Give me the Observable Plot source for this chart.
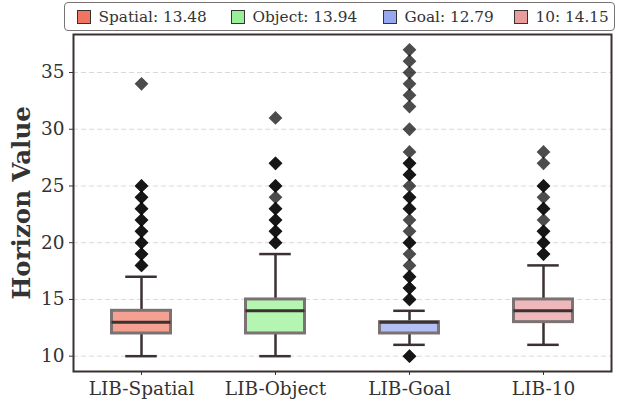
<!DOCTYPE html>
<html>
<head>
<meta charset="utf-8">
<script src="https://cdn.jsdelivr.net/npm/d3@7"></script>
<script src="https://cdn.jsdelivr.net/npm/@observablehq/plot@0.6"></script>
<style>
  html, body { margin: 0; padding: 0; background: #fff; }
  #wrap { position: relative; width: 624px; height: 402px; font-family: "DejaVu Serif", serif; }
  #wrap svg text { font-family: "DejaVu Serif", serif; }
  #legend { position: absolute; left: 64px; top: 2px; width: 549px; height: 27px;
            border: 1.5px solid #7a7474; border-radius: 4px; background: #fff; }
  .item { position: absolute; top: 0; height: 27px; display: flex; align-items: center;
          font-family: "DejaVu Serif", serif; font-size: 15.3px; color: #333; white-space: nowrap; }
  .sw { width: 12px; height: 12px; border: 1px solid #333; margin-right: 8px; }
  svg { display: block; }
</style>
</head>
<body>
<div id="wrap"></div>
<script>
// ---- data ----
const categories = ["LIB-Spatial", "LIB-Object", "LIB-Goal", "LIB-10"];
const legendNames = ["Spatial", "Object", "Goal", "10"];
const means = [13.48, 13.94, 12.79, 14.15];
const q1 = [12, 12, 12, 13];
const medians = [13, 14, 13, 14];
const q3 = [14, 15, 13, 15];
const whiskerLow = [10, 10, 11, 11];
const whiskerHigh = [17, 19, 14, 18];
const outliersSpatial = [18, 18, 19, 19, 20, 20, 21, 21, 22, 22, 23, 23, 24, 24, 25, 25, 34];
const outliersObject = [20, 20, 21, 21, 22, 22, 23, 23, 24, 25, 25, 27, 27, 31];
const outliersGoal = [10, 10, 15, 15, 16, 16, 17, 17, 18, 19, 20, 20, 21, 22, 23, 23, 24, 24, 25, 26, 26, 27, 27, 28, 30, 32, 33, 34, 35, 36, 37];
const outliers10 = [19, 19, 20, 20, 21, 21, 22, 23, 23, 24, 25, 25, 27, 28];
const boxColors = ["#f5a192", "#b3f5b1", "#b4bff5", "#efb8bb"];
const legendColors = ["#f07460", "#98ef98", "#98a8f0", "#e89c9c"];
const yTicks = [10, 15, 20, 25, 30, 35];

// ---- tables ----
const boxes = categories.map((c, i) => ({
  category: c, q1: q1[i], median: medians[i], q3: q3[i],
  low: whiskerLow[i], high: whiskerHigh[i], fill: boxColors[i]
}));
const outlierLists = [outliersSpatial, outliersObject, outliersGoal, outliers10];
const outliers = categories.flatMap((c, i) => outlierLists[i].map(v => ({category: c, value: v})));

const dark = "#3b3131";
const chart = Plot.plot({
  width: 624, height: 402,
  marginTop: 34, marginBottom: 31, marginLeft: 73, marginRight: 13,
  style: {fontFamily: "DejaVu Serif, serif", fontSize: "18.5px", color: "#333", background: "transparent"},
  x: {type: "band", domain: categories, padding: 0, label: null},
  y: {domain: [8.65, 38.35], label: null},
  color: {type: "identity"},
  marks: [
    Plot.gridY(yTicks, {stroke: "#d9d9d9", strokeOpacity: 1, strokeDasharray: "5,3", strokeWidth: 1}),
    Plot.ruleX(boxes, {x: "category", y1: "low", y2: "q1", stroke: dark, strokeWidth: 2.5}),
    Plot.ruleX(boxes, {x: "category", y1: "q3", y2: "high", stroke: dark, strokeWidth: 2.5}),
    Plot.tickY(boxes, {x: "category", y: "low", insetLeft: 51.25, insetRight: 51.25, stroke: dark, strokeWidth: 2.5}),
    Plot.tickY(boxes, {x: "category", y: "high", insetLeft: 51.25, insetRight: 51.25, stroke: dark, strokeWidth: 2.5}),
    Plot.barY(boxes, {x: "category", y1: "q1", y2: "q3", fill: "fill", stroke: "#7b7373", strokeWidth: 3, insetLeft: 37.5, insetRight: 37.5}),
    Plot.tickY(boxes, {x: "category", y: "median", insetLeft: 37.5, insetRight: 37.5, stroke: dark, strokeWidth: 3}),
    Plot.dot(outliers, {x: "category", y: "value", symbol: "diamond2", r: 6.2, fill: "#000", fillOpacity: 0.7, stroke: "none"}),
    Plot.frame({stroke: dark, strokeWidth: 2}),
    Plot.axisY({ticks: yTicks, tickSize: 4, tickPadding: 5, stroke: dark, fill: "#333", fontSize: 18.5, label: null}),
    Plot.axisX({tickSize: 4, tickPadding: 6, stroke: dark, fill: "#333", fontSize: 18.5, label: null}),
    Plot.text(["Horizon Value"], {frameAnchor: "left", rotate: -90, dx: -51, textAnchor: "middle", lineAnchor: "middle",
      fontSize: 24.5, fontWeight: "bold", fill: "#333"})
  ]
});
const wrap = document.getElementById("wrap");
wrap.appendChild(chart);

// ---- legend ----
const legend = document.createElement("div");
legend.id = "legend";
const itemLefts = [11.5, 165.5, 317.5, 448.5];
legendNames.forEach((n, i) => {
  const it = document.createElement("div");
  it.className = "item";
  it.style.left = itemLefts[i] + "px";
  const sw = document.createElement("span");
  sw.className = "sw";
  sw.style.background = legendColors[i];
  it.appendChild(sw);
  it.appendChild(document.createTextNode(`${n}: ${means[i].toFixed(2)}`));
  legend.appendChild(it);
});
wrap.appendChild(legend);
</script>
</body>
</html>
